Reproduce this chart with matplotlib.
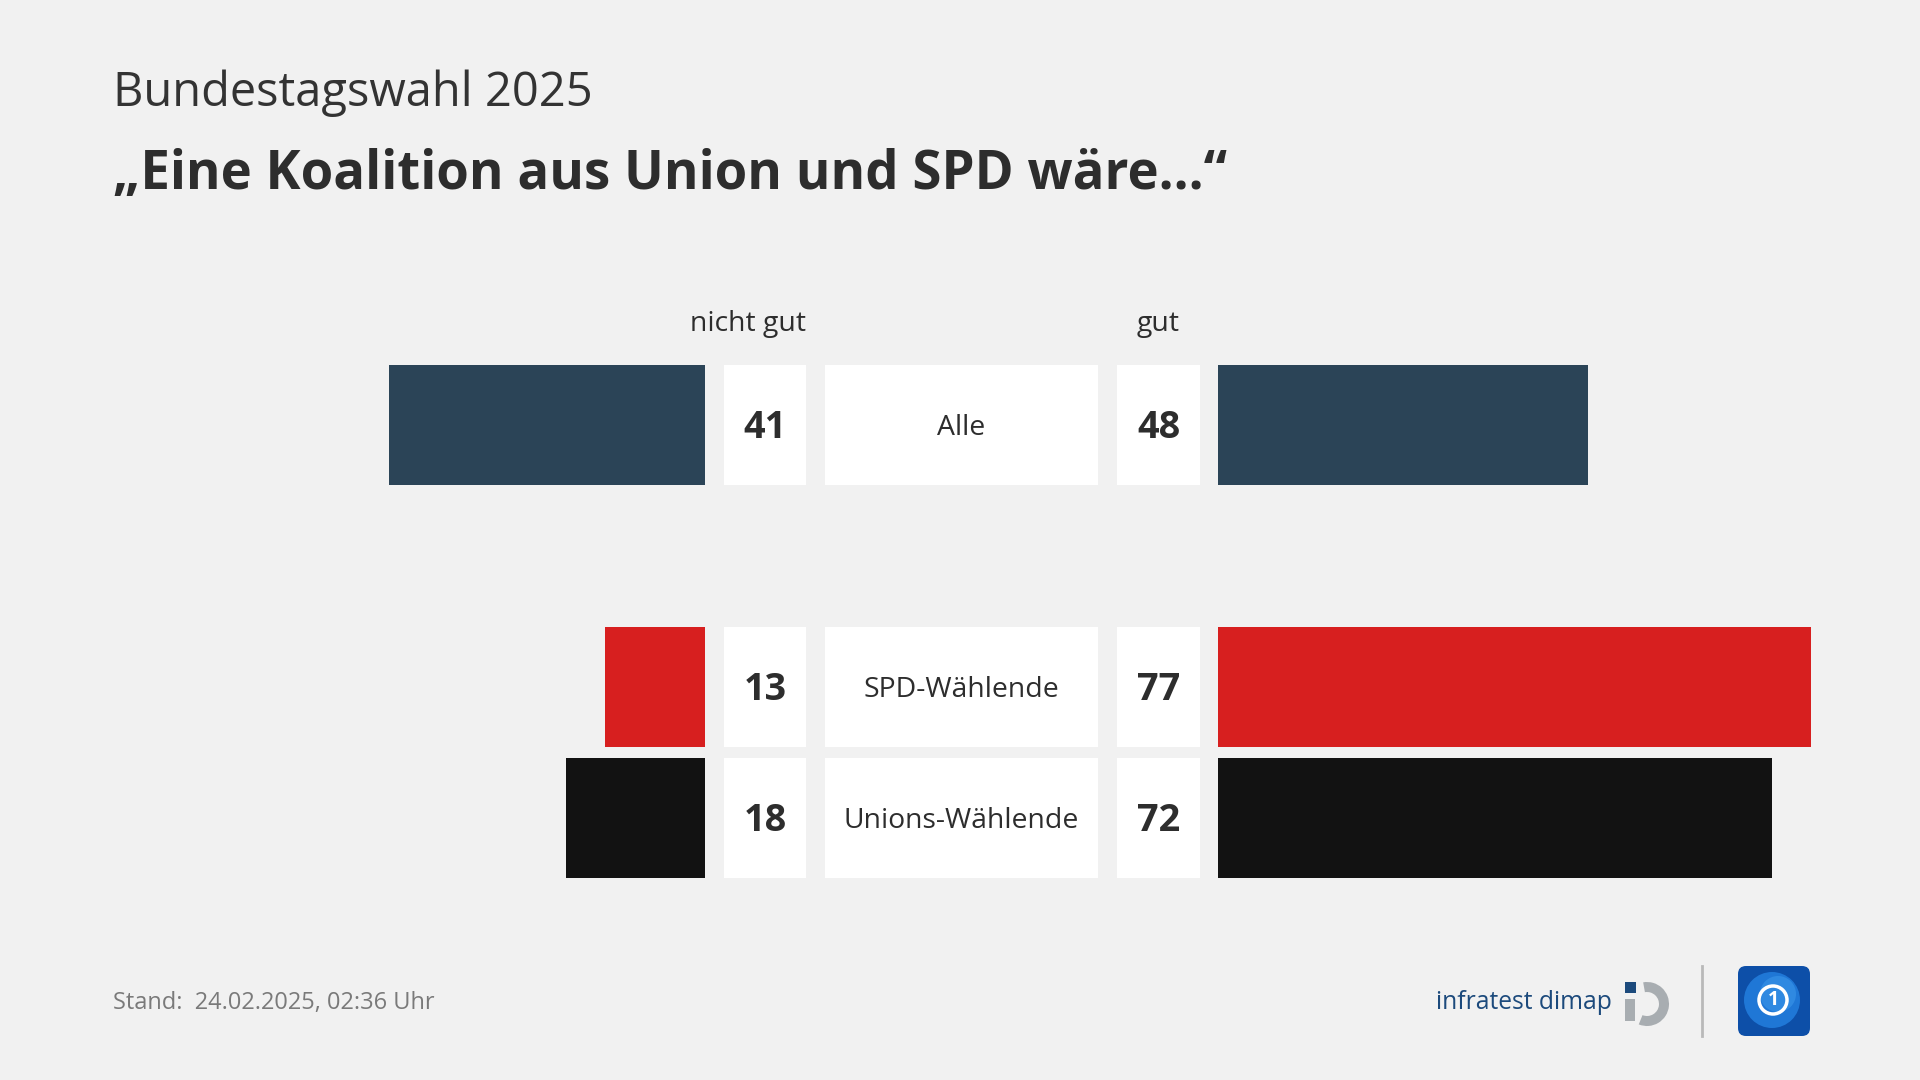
import matplotlib
matplotlib.use("Agg")
import matplotlib.pyplot as plt
from matplotlib.patches import Rectangle, FancyBboxPatch, Wedge, Circle
import numpy as np

# ---------------- data ----------------
groups = ["Alle", "SPD-Wählende", "Unions-Wählende"]
nicht_gut = [41, 13, 18]
gut = [48, 77, 72]
bar_colors = ["#2b4457", "#d71f1f", "#121212"]
row_pos = [0, 2, 3]          # row 1 is an empty spacer row
header_left = "nicht gut"
header_right = "gut"
subtitle = "Bundestagswahl 2025"
title = "„Eine Koalition aus Union und SPD wäre...“"
footer = "Stand:  24.02.2025, 02:36 Uhr"
brand = "infratest dimap"

# ---------------- layout ----------------
W, H = 1920, 1080
BG = "#f1f1f1"
FONT = "Open Sans"
plt.rcParams["font.family"] = [FONT, "DejaVu Sans"]

fig = plt.figure(figsize=(W / 100, H / 100), dpi=100, facecolor=BG)
renderer = fig.canvas.get_renderer()

bg = fig.add_axes([0, 0, 1, 1])
bg.set_xlim(0, W)
bg.set_ylim(H, 0)
bg.axis("off")
bg.set_facecolor(BG)


def fit_text(ax, x, y, s, target_w, weight="normal", color="#333333",
             ha="left", va="baseline", size0=20, **kw):
    t = ax.text(x, y, s, fontsize=size0, fontweight=weight, color=color,
                ha=ha, va=va, **kw)
    w = t.get_window_extent(renderer=renderer).width
    t.set_fontsize(size0 * target_w / w)
    return t


def fit_size(s, target_w, weight="normal", size0=20):
    t = fig.text(0, 0, s, fontsize=size0, fontweight=weight)
    w = t.get_window_extent(renderer=renderer).width
    t.remove()
    return size0 * target_w / w


# titles
fit_text(bg, 113, 106, subtitle, 479, weight="normal", color="#333333")
fit_text(bg, 113, 189, title, 1115, weight="bold", color="#2d2d2d")

# rows geometry
row_h = 131.0
row0_center = 425.0
n_rows = 4
ax_top = row0_center - row_h / 2
ax_bottom_frac = 1 - (ax_top + n_rows * row_h) / H
ax_h_frac = n_rows * row_h / H
bar_h = 120.0 / row_h
PX = 7.7
center_left = 705
center_right = 1218

left_max = 50
axL = fig.add_axes([(center_left - PX * left_max) / W, ax_bottom_frac,
                    PX * left_max / W, ax_h_frac])
axL.barh(row_pos, nicht_gut, height=bar_h, color=bar_colors)
axL.set_xlim(left_max, 0)
axL.set_ylim(n_rows - 0.5, -0.5)
axL.axis("off")

right_max = 80
axR = fig.add_axes([center_right / W, ax_bottom_frac,
                    PX * right_max / W, ax_h_frac])
axR.barh(row_pos, gut, height=bar_h, color=bar_colors)
axR.set_xlim(0, right_max)
axR.set_ylim(n_rows - 0.5, -0.5)
axR.axis("off")

# white boxes with numbers and labels
box_l = (724, 806)
box_m = (825, 1098)
box_r = (1117, 1200)
num_size = fit_size("48", 43, weight="bold")
lab_size = fit_size("Unions-Wählende", 235)
num_cap = num_size * 100 / 72 * 0.714
lab_cap = lab_size * 100 / 72 * 0.714

for r, g, ng, gd in zip(row_pos, groups, nicht_gut, gut):
    cy = row0_center + r * row_h
    top = cy - 60
    for (x0, x1) in (box_l, box_m, box_r):
        bg.add_patch(Rectangle((x0, top), x1 - x0, 120, facecolor="white",
                               edgecolor="none"))
    bg.text((box_l[0] + box_l[1]) / 2, cy + num_cap / 2, str(ng),
            fontsize=num_size, fontweight="bold", color="#2d2d2d",
            ha="center", va="baseline")
    bg.text((box_r[0] + box_r[1]) / 2, cy + num_cap / 2, str(gd),
            fontsize=num_size, fontweight="bold", color="#2d2d2d",
            ha="center", va="baseline")
    bg.text((box_m[0] + box_m[1]) / 2, cy + lab_cap / 2, g,
            fontsize=lab_size, color="#2d2d2d", ha="center", va="baseline")

# column headers
hdr_size = fit_size(header_left, 116)
bg.text(box_l[1], 331, header_left, fontsize=hdr_size, color="#2d2d2d",
        ha="right", va="baseline")
bg.text((box_r[0] + box_r[1]) / 2, 331, header_right, fontsize=hdr_size,
        color="#2d2d2d", ha="center", va="baseline")

# footer
fit_text(bg, 113, 1009, footer, 322, color="#7a7a7a")

# infratest dimap brand
fit_text(bg, 1436, 1009, brand, 175, color="#1c4a7c")
cx, cy, rr = 1647, 1004, 22
bg.add_patch(Wedge((cx, cy), rr, -100, 112, width=10, facecolor="#a8adb1",
                   edgecolor="none"))
bg.add_patch(Rectangle((1625, 999), 10, 22, facecolor="#a8adb1",
                       edgecolor="none"))
bg.add_patch(Rectangle((1625, 982), 11, 11, facecolor="#1c4a7c",
                       edgecolor="none"))

# separator
bg.plot([1702, 1702], [966, 1036], color="#b9b9b9", lw=2)

# tagesschau-style logo
bg.add_patch(FancyBboxPatch((1738, 966), 72, 70,
                            boxstyle="round,pad=0,rounding_size=8",
                            facecolor="#0d4fa8", edgecolor="none"))
bg.add_patch(Circle((1772, 1000), 28, facecolor="#1f77d6", edgecolor="none"))
bg.add_patch(Circle((1778, 994), 18, facecolor="#3a96ea", edgecolor="none",
                    alpha=0.6))
bg.add_patch(Circle((1773, 1000), 14, facecolor="none", edgecolor="white",
                    lw=2.5))
bg.text(1773, 1000, "1", fontsize=14, fontweight="bold", color="white",
        ha="center", va="center")

fig.savefig("out.png", dpi=100, facecolor=BG)
